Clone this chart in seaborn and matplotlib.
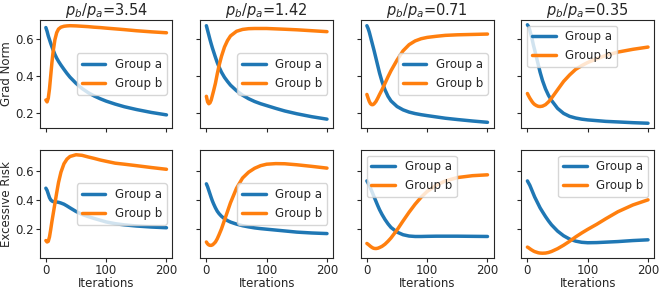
import pandas as pd
import matplotlib
matplotlib.use('Agg')
import matplotlib.pyplot as plt
import seaborn as sns

sns.set_style('ticks')
plt.rcParams['font.family'] = ['DejaVu Sans']

iters = [0, 2, 4, 6, 8, 10, 12, 15, 18, 21, 25, 30, 35, 40, 50, 60, 70, 80, 90, 100, 115, 130, 150, 175, 200]

ratios = ['3.54', '1.42', '0.71', '0.35']

# Grad Norm (top row)
grad_a = [
    [0.66, 0.64, 0.615, 0.595, 0.575, 0.557, 0.54, 0.515, 0.495, 0.478, 0.458, 0.435, 0.413, 0.393, 0.36, 0.332, 0.31, 0.292, 0.277, 0.264, 0.248, 0.234, 0.219, 0.203, 0.19],
    [0.67, 0.645, 0.62, 0.595, 0.572, 0.55, 0.53, 0.5, 0.472, 0.448, 0.42, 0.392, 0.37, 0.35, 0.32, 0.296, 0.277, 0.262, 0.25, 0.24, 0.225, 0.211, 0.196, 0.18, 0.167],
    [0.67, 0.655, 0.635, 0.61, 0.585, 0.56, 0.535, 0.495, 0.455, 0.415, 0.37, 0.325, 0.29, 0.265, 0.235, 0.217, 0.205, 0.197, 0.191, 0.186, 0.179, 0.172, 0.165, 0.157, 0.15],
    [0.675, 0.665, 0.645, 0.62, 0.595, 0.565, 0.54, 0.5, 0.46, 0.42, 0.375, 0.33, 0.295, 0.268, 0.225, 0.198, 0.182, 0.173, 0.167, 0.163, 0.159, 0.155, 0.152, 0.148, 0.145],
]
grad_b = [
    [0.27, 0.26, 0.28, 0.33, 0.40, 0.47, 0.53, 0.595, 0.633, 0.652, 0.662, 0.667, 0.669, 0.67, 0.669, 0.667, 0.665, 0.662, 0.66, 0.657, 0.653, 0.649, 0.643, 0.637, 0.632],
    [0.29, 0.26, 0.25, 0.255, 0.27, 0.295, 0.32, 0.36, 0.41, 0.455, 0.505, 0.555, 0.59, 0.615, 0.64, 0.65, 0.654, 0.655, 0.655, 0.655, 0.653, 0.651, 0.648, 0.643, 0.638],
    [0.30, 0.28, 0.262, 0.25, 0.245, 0.245, 0.25, 0.262, 0.28, 0.30, 0.325, 0.36, 0.395, 0.428, 0.485, 0.535, 0.568, 0.588, 0.60, 0.607, 0.613, 0.618, 0.621, 0.623, 0.625],
    [0.305, 0.292, 0.28, 0.27, 0.26, 0.252, 0.246, 0.24, 0.236, 0.235, 0.237, 0.245, 0.26, 0.28, 0.325, 0.37, 0.405, 0.435, 0.455, 0.472, 0.492, 0.51, 0.528, 0.543, 0.555],
]

# Excessive Risk (bottom row)
risk_a = [
    [0.48, 0.465, 0.44, 0.415, 0.40, 0.392, 0.388, 0.386, 0.385, 0.383, 0.378, 0.37, 0.358, 0.345, 0.32, 0.30, 0.285, 0.272, 0.26, 0.248, 0.236, 0.228, 0.22, 0.213, 0.208],
    [0.51, 0.49, 0.465, 0.44, 0.415, 0.392, 0.372, 0.345, 0.322, 0.305, 0.287, 0.27, 0.257, 0.247, 0.233, 0.222, 0.214, 0.207, 0.202, 0.198, 0.192, 0.186, 0.178, 0.172, 0.168],
    [0.53, 0.515, 0.50, 0.48, 0.46, 0.44, 0.42, 0.39, 0.36, 0.332, 0.30, 0.265, 0.235, 0.21, 0.178, 0.16, 0.151, 0.148, 0.148, 0.149, 0.15, 0.15, 0.15, 0.149, 0.148],
    [0.53, 0.515, 0.50, 0.48, 0.46, 0.44, 0.42, 0.395, 0.37, 0.345, 0.318, 0.285, 0.255, 0.228, 0.185, 0.153, 0.13, 0.116, 0.108, 0.105, 0.106, 0.109, 0.113, 0.12, 0.125],
]
risk_b = [
    [0.12, 0.11, 0.115, 0.145, 0.195, 0.25, 0.30, 0.375, 0.45, 0.52, 0.59, 0.648, 0.68, 0.698, 0.71, 0.706, 0.695, 0.685, 0.674, 0.665, 0.652, 0.645, 0.635, 0.622, 0.61],
    [0.11, 0.097, 0.09, 0.087, 0.087, 0.09, 0.097, 0.11, 0.132, 0.16, 0.20, 0.26, 0.32, 0.38, 0.48, 0.55, 0.59, 0.617, 0.635, 0.645, 0.649, 0.648, 0.641, 0.63, 0.618],
    [0.10, 0.094, 0.087, 0.08, 0.074, 0.069, 0.066, 0.065, 0.067, 0.072, 0.08, 0.095, 0.115, 0.138, 0.193, 0.255, 0.315, 0.37, 0.418, 0.458, 0.50, 0.53, 0.553, 0.566, 0.572],
    [0.075, 0.07, 0.064, 0.058, 0.053, 0.048, 0.044, 0.04, 0.036, 0.034, 0.033, 0.034, 0.038, 0.045, 0.064, 0.088, 0.115, 0.145, 0.172, 0.197, 0.232, 0.27, 0.318, 0.365, 0.40],
]

legend_locs = [
    ['center right', 'center right', 'center right', 'upper left'],
    ['center right', 'center right', 'upper left', 'upper right'],
]

fig, axes = plt.subplots(2, 4, figsize=(6.64, 2.92), dpi=100, sharex=True, sharey='row')
fig.subplots_adjust(left=0.06, right=0.985, top=0.932, bottom=0.116, wspace=0.21, hspace=0.2)

rows = [(grad_a, grad_b, 'Grad Norm'), (risk_a, risk_b, 'Excessive Risk')]
for r, (ya, yb, name) in enumerate(rows):
    for c in range(4):
        ax = axes[r, c]
        sns.lineplot(x=iters, y=ya[c], ax=ax, color='#1f77b4', linewidth=2.5, label='Group a')
        sns.lineplot(x=iters, y=yb[c], ax=ax, color='#ff7f0e', linewidth=2.5, label='Group b')
        ax.legend(loc=legend_locs[r][c], fontsize=8.5)
        ax.tick_params(labelsize=8.5, length=3, pad=1.5)
        ax.set_yticks([0.2, 0.4, 0.6])
        ax.set_xticks([0, 100, 200])
        if c == 0:
            ax.set_ylabel(name, fontsize=8.5, labelpad=1.5)
        if r == 0:
            ax.set_title(r'$p_b/p_a$=' + ratios[c], fontsize=10.5, pad=2)
        else:
            ax.set_xlabel('Iterations', fontsize=8.5, labelpad=0)

fig.savefig('out.png', dpi=100)
